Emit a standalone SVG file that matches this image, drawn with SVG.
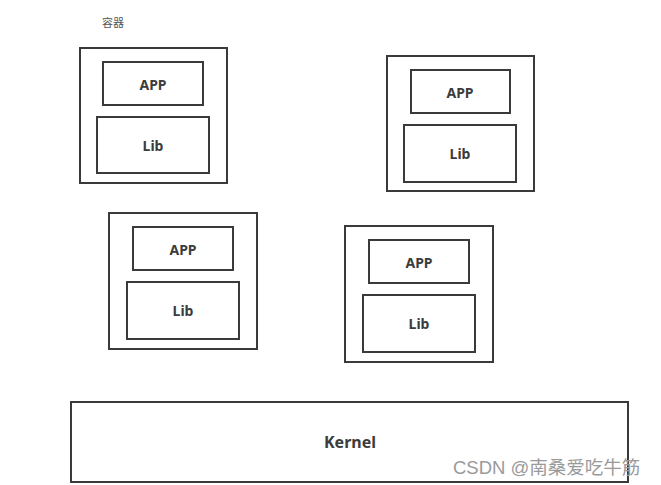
<svg xmlns="http://www.w3.org/2000/svg" width="661" height="485" viewBox="0 0 661 485">
<style>
.box{fill:none;stroke:#3a3a3a;stroke-width:2}
.t{font-family:"Noto Sans","Liberation Sans",sans-serif;font-weight:bold;font-size:14px;fill:#3c3c3c;text-anchor:middle;dominant-baseline:central}
.k{font-size:16px}
.cap{font-family:"Noto Sans CJK SC",sans-serif;font-size:11px;fill:#555}
.wm{font-family:"Liberation Sans","Noto Sans CJK SC",sans-serif;font-size:18.5px;fill:#9a9a9a}
</style>
<rect width="661" height="485" fill="#fff"/>
<text class="cap" x="102" y="27">容器</text>
<g id="container1">
<rect class="box" x="80" y="48" width="147" height="135"/>
<g id="app1"><rect class="box" x="103" y="62" width="100" height="43"/><text class="t" x="153" y="84">APP</text></g>
<g id="lib1"><rect class="box" x="97" y="117" width="112" height="56"/><text class="t" x="153" y="145">Lib</text></g>
</g>
<g id="container2">
<rect class="box" x="387" y="56" width="147" height="135"/>
<g id="app2"><rect class="box" x="411" y="70" width="99" height="43"/><text class="t" x="460" y="92">APP</text></g>
<g id="lib2"><rect class="box" x="404" y="125" width="112" height="57"/><text class="t" x="460" y="153">Lib</text></g>
</g>
<g id="container3">
<rect class="box" x="109" y="213" width="148" height="136"/>
<g id="app3"><rect class="box" x="133" y="227" width="100" height="43"/><text class="t" x="183" y="249">APP</text></g>
<g id="lib3"><rect class="box" x="127" y="282" width="112" height="57"/><text class="t" x="183" y="310">Lib</text></g>
</g>
<g id="container4">
<rect class="box" x="345" y="226" width="148" height="136"/>
<g id="app4"><rect class="box" x="369" y="240" width="100" height="43"/><text class="t" x="419" y="262">APP</text></g>
<g id="lib4"><rect class="box" x="363" y="295" width="112" height="57"/><text class="t" x="419" y="323">Lib</text></g>
</g>
<g id="kernel">
<rect class="box" x="71" y="402" width="557" height="80"/>
<text class="t k" x="350" y="442">Kernel</text>
</g>
<g id="connectors"></g>
<text class="wm" x="453" y="474">CSDN @南桑爱吃牛筋</text>
</svg>
